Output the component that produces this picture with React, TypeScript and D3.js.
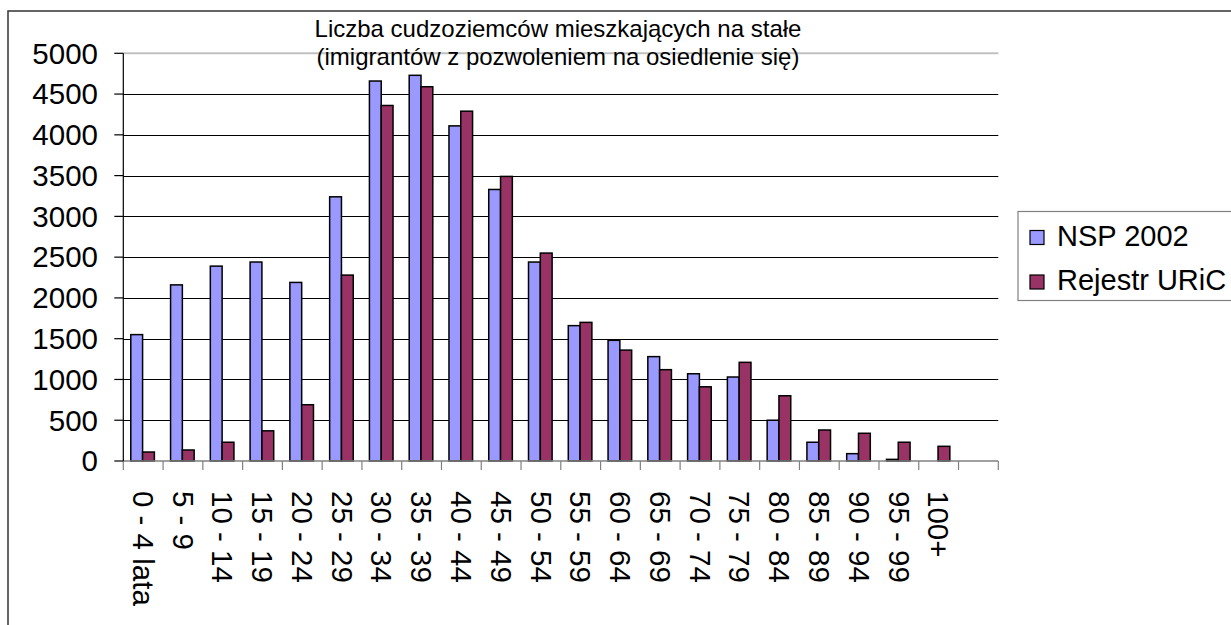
import React from 'react';
import * as d3 from 'd3';

// age groups (last slot is empty in the original chart)
const categories = [
  '0 - 4 lata', '5 - 9', '10 - 14', '15 - 19', '20 - 24', '25 - 29', '30 - 34',
  '35 - 39', '40 - 44', '45 - 49', '50 - 54', '55 - 59', '60 - 64', '65 - 69',
  '70 - 74', '75 - 79', '80 - 84', '85 - 89', '90 - 94', '95 - 99', '100+', ''
];
const seriesNames = ['NSP 2002', 'Rejestr URiC'];
const nsp2002 = [1550, 2160, 2390, 2440, 2190, 3240, 4660, 4730, 4110, 3330, 2440,
  1660, 1480, 1280, 1070, 1030, 500, 230, 90, 20, 0, 0];
const rejestrURiC = [110, 135, 230, 370, 690, 2280, 4360, 4590, 4290, 3490, 2550,
  1700, 1360, 1120, 910, 1210, 800, 380, 340, 230, 180, 0];
const yTicks = [0, 500, 1000, 1500, 2000, 2500, 3000, 3500, 4000, 4500, 5000];
const titleLines = ['Liczba cudzoziemców mieszkających na stałe', '(imigrantów z pozwoleniem na osiedlenie się)'];
const colors = ['#9999ff', '#993366'];

const W = 1231, H = 625;
const plot = { left: 123.3, right: 998.3, top: 53.3, bottom: 461 };
const font = '"Liberation Sans", Arial, sans-serif';

export default function App() {
  const x = d3.scaleBand<string>().domain(categories.map((c, i) => String(i)))
    .range([plot.left, plot.right]).padding(0);
  const slot = x.bandwidth();
  const barW = 11.8;
  const off = (slot - 2 * barW) / 2 - 0.6;
  const xSub = d3.scaleBand<string>().domain(seriesNames).range([off, off + 2 * barW]);
  const y = d3.scaleLinear().domain([0, 5000]).range([plot.bottom, plot.top]);
  const values = [nsp2002, rejestrURiC];

  return (
    <svg width={W} height={H} style={{ position: 'absolute', left: 0, top: 0, display: 'block', background: '#fff' }}>
      {/* chart frame */}
      <rect x={8} y={11} width={W} height={H} fill="#fff" stroke="#333" strokeWidth={1.5} />

      {/* gridlines */}
      {yTicks.filter(t => t > 0 && t < 5000).map(t => (
        <line key={t} x1={plot.left} x2={plot.right} y1={Math.round(y(t)) + 0.5} y2={Math.round(y(t)) + 0.5} stroke="#000" strokeWidth={1} />
      ))}
      <line x1={plot.left} x2={plot.right} y1={y(5000)} y2={y(5000)} stroke="#c0c0c0" strokeWidth={2} />

      {/* title */}
      {titleLines.map((t, i) => (
        <text key={i} x={558} y={37 + i * 27.5} textAnchor="middle" fontFamily={font} fontSize={24} fill="#000">{t}</text>
      ))}

      {/* bars */}
      {categories.map((c, i) => (
        <g key={i} transform={`translate(${x(String(i))},0)`}>
          {seriesNames.map((s, k) => values[k][i] > 0 ? (
            <rect key={s} x={xSub(s)} y={y(values[k][i])} width={xSub.bandwidth()}
              height={plot.bottom - y(values[k][i])} fill={colors[k]} stroke="#000" strokeWidth={1.5} />
          ) : null)}
        </g>
      ))}

      {/* x axis */}
      <line x1={plot.left} x2={plot.right} y1={plot.bottom} y2={plot.bottom} stroke="#808080" strokeWidth={1.5} />
      {d3.range(categories.length + 1).map(i => {
        const px = plot.left + i * slot;
        return <line key={i} x1={px} x2={px} y1={plot.bottom} y2={plot.bottom + 9} stroke="#808080" strokeWidth={1.2} />;
      })}
      {categories.map((c, i) => (
        <text key={i} transform={`translate(${(x(String(i)) as number) + slot / 2},491) rotate(90)`}
          dy="0.35em" fontFamily={font} fontSize={29.5} fill="#000">{c}</text>
      ))}

      {/* y axis */}
      <line x1={plot.left} x2={plot.left} y1={plot.top} y2={plot.bottom} stroke="#000" strokeWidth={1.2} />
      {yTicks.map(t => (
        <g key={t}>
          <line x1={plot.left - 9} x2={plot.left} y1={y(t)} y2={y(t)} stroke="#000" strokeWidth={1.2} />
          <text x={98} y={y(t)} dy="0.35em" textAnchor="end" fontFamily={font} fontSize={29.5} fill="#000">{t}</text>
        </g>
      ))}

      {/* legend */}
      <rect x={1018} y={211.5} width={240} height={89} fill="#fff" stroke="#808080" strokeWidth={1.2} />
      {seriesNames.map((s, k) => (
        <g key={s}>
          <rect x={1030} y={230.5 + k * 44.5} width={14} height={14} fill={colors[k]} stroke="#000" strokeWidth={1.2} />
          <text x={1057} y={245.5 + k * 44.5} fontFamily={font} fontSize={29} fill="#000">{s}</text>
        </g>
      ))}
    </svg>
  );
}
